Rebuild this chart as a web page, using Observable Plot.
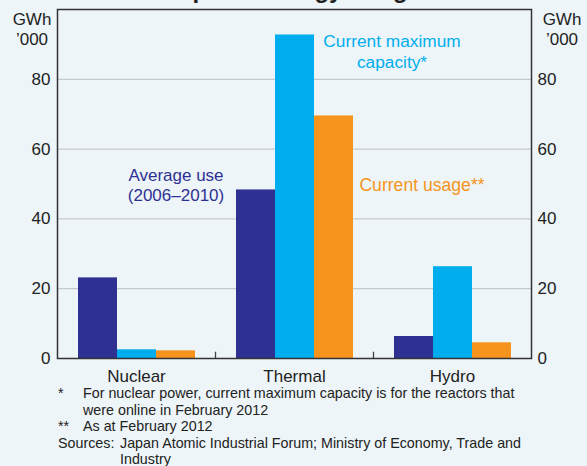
<!DOCTYPE html>
<html>
<head>
<meta charset="utf-8">
<script src="https://cdn.jsdelivr.net/npm/d3@7"></script>
<script src="https://cdn.jsdelivr.net/npm/@observablehq/plot@0.6"></script>
<style>
  html, body { margin: 0; padding: 0; background: #edf5f8; }
  #chart { position: relative; width: 587px; height: 466px; overflow: hidden;
           font-family: "Liberation Sans", Arial, sans-serif; color: #222; }
  #title { position: absolute; top: -22px; left: 0; width: 587px; text-align: center;
           font-size: 24px; line-height: 24px; font-weight: bold; color: #222; }
  .layer { position: absolute; left: 0; top: 0; }
  #notes { position: absolute; left: 58px; top: 385px; font-size: 14.3px; line-height: 16.5px; }
  .row { display: flex; }
  .row .k { flex: none; width: 25px; }
  .row.src .k { width: 62px; }
</style>
</head>
<body>
<div id="chart">
  <div id="title"></div>
  <div id="back" class="layer"></div>
  <div id="front" class="layer"></div>
  <div id="frameLayer" class="layer"></div>
  <div id="notes"></div>
</div>
<script>
// ---- data ----
const titleText = "Japan’s Energy Usage";
const categories = ["Nuclear", "Thermal", "Hydro"];
const seriesNames = ["Average use\n(2006–2010)", "Current maximum\ncapacity*", "Current usage**"];
const seriesColors = ["#2e3192", "#00aeef", "#f7941d"];
const averageUse = [23.1, 48.3, 6.3];
const maxCapacity = [2.5, 92.7, 26.3];
const currentUsage = [2.2, 69.5, 4.5];
const yTicks = [0, 20, 40, 60, 80];
const gridTicks = [20, 40, 60, 80];
const yMax = 100;
const unitLabel = "GWh\n’000";
const noteKeys = ["*", "**", "Sources:"];
const noteTexts = [
  "For nuclear power, current maximum capacity is for the reactors that<br>were online in February 2012",
  "As at February 2012",
  "Japan Atomic Industrial Forum; Ministry of Economy, Trade and<br>Industry"
];
// annotation anchors (category, series, y value)
const annotationCategory = ["Nuclear", "Hydro", "Hydro"];
const annotationAnchorSeries = [2, 0, 0];
const annotationY = [49.8, 88.1, 49.8];

// ---- build ----
const seriesValues = [averageUse, maxCapacity, currentUsage];
const rows = [];
categories.forEach((c, ci) => seriesNames.forEach((s, si) => rows.push({category: c, series: s, value: seriesValues[si][ci]})));

const FONT = "'Liberation Sans', Arial, sans-serif";
const W = 587, H = 386;
const margins = {marginTop: 9, marginBottom: 28, marginLeft: 57, marginRight: 56};
const plotStyle = {background: "transparent", fontFamily: FONT, fontSize: "17px", color: "#222", overflow: "visible"};

document.getElementById("title").textContent = titleText;

const backPlot = Plot.plot({
  width: W, height: H, ...margins, style: plotStyle,
  x: {domain: [0, categories.length], axis: null},
  y: {domain: [0, yMax], axis: null},
  marks: [
    Plot.gridY(gridTicks, {stroke: "#c6c9cb", strokeOpacity: 1, strokeWidth: 1.2}),
    Plot.axisY({anchor: "left", ticks: yTicks, tickSize: 0, tickPadding: 7, label: null, fill: "#222"}),
    Plot.axisY({anchor: "right", ticks: yTicks, tickSize: 0, tickPadding: 6, label: null, fill: "#222"}),
    Plot.text([unitLabel], {frameAnchor: "top-left", text: d => d, dx: -25.5, dy: 1, lineAnchor: "top", lineHeight: 1.18, textAnchor: "middle", fill: "#222"}),
    Plot.text([unitLabel], {frameAnchor: "top-right", text: d => d, dx: 30.5, dy: 1, lineAnchor: "top", lineHeight: 1.18, textAnchor: "middle", fill: "#222"}),
    Plot.ruleX(d3.range(1, categories.length), {y1: 0, y2: 1.8, stroke: "#444", strokeWidth: 1.3})
  ]
});
document.getElementById("back").append(backPlot);

const frontPlot = Plot.plot({
  width: W, height: H, ...margins, style: plotStyle,
  fx: {domain: categories, padding: 0, axis: "bottom", tickSize: 0, tickPadding: 11, label: null},
  x: {domain: seriesNames, paddingInner: 0, paddingOuter: 0.5, axis: null},
  y: {domain: [0, yMax], axis: null},
  color: {domain: seriesNames, range: seriesColors},
  marks: [
    Plot.barY(rows, {fx: "category", x: "series", y: "value", fill: "series"}),
    ...[0, 1, 2].map(i => Plot.text([i], {
      fx: () => annotationCategory[i],
      x: () => seriesNames[annotationAnchorSeries[i]],
      y: () => annotationY[i],
      text: () => seriesNames[i],
      fill: () => seriesNames[i],
      dx: [0, -22, 8][i],
      lineHeight: 1.17,
      textAnchor: "middle",
      fontSize: [17, 17.3, 17.6][i]
    }))
  ]
});
document.getElementById("front").append(frontPlot);

const framePlot = Plot.plot({
  width: W, height: H, ...margins, style: plotStyle,
  y: {domain: [0, yMax], axis: null},
  marks: [
    Plot.frame({stroke: "#333", strokeWidth: 1.5})
  ]
});
document.getElementById("frameLayer").append(framePlot);

const notes = document.getElementById("notes");
noteKeys.forEach((k, i) => {
  const r = document.createElement("div");
  r.className = "row" + (i === 2 ? " src" : "");
  r.innerHTML = `<span class="k">${k}</span><span class="v">${noteTexts[i]}</span>`;
  notes.append(r);
});
</script>
</body>
</html>
